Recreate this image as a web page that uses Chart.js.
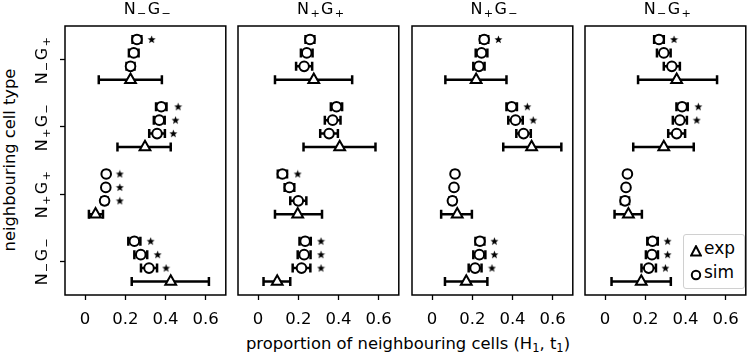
<!DOCTYPE html>
<html>
<head>
<meta charset="utf-8">
<script src="https://cdn.jsdelivr.net/npm/chart.js@4"></script>
<style>
  body { margin: 0; background: #fff; }
  #wrap { position: relative; width: 753px; height: 353px; overflow: hidden; font-family: "DejaVu Sans", sans-serif; color: #000; }
  #wrap canvas { position: absolute; top: 0; }
  sub { font-size: 0.7em; vertical-align: -0.25em; line-height: 0; margin: 0 0.12em; }
  .ptitle { position: absolute; top: 0px; width: 166px; text-align: center; font-size: 16px; line-height: 18px; white-space: nowrap; }
  .ytick { position: absolute; font-size: 16px; line-height: 18px; white-space: nowrap; transform: translate(-50%, -50%) rotate(-90deg); }
  #xlabel { position: absolute; left: 0; width: 816px; top: 335px; text-align: center; font-size: 16.4px; line-height: 18px; white-space: nowrap; }
  #xlabel sub { margin: 0; }
  #ylabel { position: absolute; left: 10px; top: 160px; font-size: 16.3px; line-height: 18px; white-space: nowrap; transform: translate(-50%, -50%) rotate(-90deg); }
  #legend { position: absolute; left: 683px; top: 234px; width: 60px; height: 53px; border: 1px solid #d0d0d0; border-radius: 3px; background: rgba(255,255,255,0.85); font-size: 17px; }
  .lrow { position: absolute; left: 0; height: 20px; line-height: 20px; }
  .lrow svg { position: absolute; left: 6px; top: 5px; }
  .lrow span { position: absolute; left: 20px; top: -2px; }
</style>
</head>
<body>
<div id="wrap">
  <div id="ylabel">neighbouring cell type</div>
  <div id="xlabel">proportion of neighbouring cells (H<sub>1</sub>, t<sub>1</sub>)</div>
  <div id="legend">
    <div class="lrow" style="top:5px"><svg width="12" height="12"><polygon points="6,1.2 10.8,10.4 1.2,10.4" fill="#fff" stroke="#000" stroke-width="2"/></svg><span>exp</span></div>
    <div class="lrow" style="top:29px"><svg width="12" height="12"><circle cx="6" cy="6" r="4.2" fill="#fff" stroke="#000" stroke-width="2"/></svg><span>sim</span></div>
  </div>
</div>
<script>
// categories bottom -> top
var categories = ['N-G-', 'N+G+', 'N+G-', 'N-G+'];
var panelTitles = ['N-G-', 'N+G+', 'N+G-', 'N-G+'];
var xTicks = [0, 0.2, 0.4, 0.6];

// experiment (triangle) per panel, per category
var expMean = [
  [0.426, 0.052, 0.298, 0.226],
  [0.095, 0.197, 0.406, 0.277],
  [0.170, 0.125, 0.495, 0.219],
  [0.180, 0.116, 0.292, 0.356]
];
var expLow = [
  [0.232, 0.019, 0.161, 0.068],
  [0.027, 0.084, 0.226, 0.084],
  [0.064, 0.045, 0.354, 0.066],
  [0.032, 0.047, 0.140, 0.164]
];
var expHigh = [
  [0.616, 0.089, 0.426, 0.382],
  [0.160, 0.318, 0.584, 0.468],
  [0.275, 0.198, 0.643, 0.370],
  [0.327, 0.183, 0.441, 0.557]
];

// simulations: three rows per category (A = top, C = lowest circle)
var simAMean = [
  [0.245, 0.105, 0.379, 0.258],
  [0.234, 0.121, 0.390, 0.258],
  [0.238, 0.114, 0.396, 0.259],
  [0.236, 0.111, 0.383, 0.268]
];
var simAErr = [
  [0.030, 0.010, 0.026, 0.022],
  [0.028, 0.023, 0.028, 0.022],
  [0.022, 0.010, 0.026, 0.020],
  [0.026, 0.010, 0.028, 0.024]
];
var simAStar = [
  [0.326, 0.173, 0.463, 0.331],
  [0.313, 0.197, null, null],
  [0.310, null, 0.474, 0.330],
  [0.311, null, 0.464, 0.343]
];
var simBMean = [
  [0.277, 0.103, 0.369, 0.242],
  [0.229, 0.156, 0.371, 0.242],
  [0.235, 0.109, 0.415, 0.246],
  [0.233, 0.104, 0.372, 0.292]
];
var simBErr = [
  [0.032, 0.010, 0.027, 0.024],
  [0.032, 0.024, 0.039, 0.029],
  [0.030, 0.010, 0.036, 0.029],
  [0.030, 0.010, 0.035, 0.034]
];
var simBStar = [
  [0.361, 0.173, 0.450, null],
  [0.313, null, null, null],
  [0.310, null, 0.503, null],
  [0.311, null, 0.456, null]
];
var simCMean = [
  [0.318, 0.097, 0.358, 0.226],
  [0.216, 0.200, 0.353, 0.229],
  [0.214, 0.101, 0.455, 0.233],
  [0.217, 0.099, 0.356, 0.332]
];
var simCErr = [
  [0.040, 0.015, 0.039, 0.020],
  [0.044, 0.040, 0.044, 0.040],
  [0.032, 0.015, 0.036, 0.028],
  [0.036, 0.020, 0.042, 0.040]
];
var simCStar = [
  [0.403, 0.173, 0.439, null],
  [0.313, null, null, null],
  [0.298, null, null, null],
  [0.300, null, null, null]
];

/* 'N-G+' -> N with subscript minus, G with subscript plus */
function labelHtml(s) {
  return s.replace(/([+-])/g, function (m) {
    return '<sub>' + (m === '-' ? '\u2212' : '+') + '</sub>';
  });
}

/* filled star marker */
var starImg = document.createElement('canvas');
starImg.width = 9; starImg.height = 9;
(function () {
  var c = starImg.getContext('2d');
  c.beginPath();
  for (var k = 0; k < 10; k++) {
    var r = k % 2 === 0 ? 4.2 : 1.8;
    var a = -Math.PI / 2 + k * Math.PI / 5;
    var px = 4.5 + r * Math.cos(a), py = 4.8 + r * Math.sin(a);
    if (k === 0) c.moveTo(px, py); else c.lineTo(px, py);
  }
  c.closePath();
  c.fillStyle = '#000';
  c.fill();
})();

/* horizontal error bars with caps, drawn under the markers */
var errBars = {
  id: 'errBars',
  beforeDatasetsDraw: function (chart) {
    var ctx = chart.ctx, xs = chart.scales.x, ys = chart.scales.y;
    ctx.save();
    ctx.strokeStyle = '#000';
    ctx.lineWidth = 2.5;
    chart.data.datasets.forEach(function (ds) {
      if (!ds.errLo) return;
      ds.data.forEach(function (p, j) {
        var y = ys.getPixelForValue(p.y);
        var x1 = xs.getPixelForValue(ds.errLo[j]);
        var x2 = xs.getPixelForValue(ds.errHi[j]);
        ctx.beginPath();
        ctx.moveTo(x1, y); ctx.lineTo(x2, y);
        ctx.moveTo(x1, y - 4.5); ctx.lineTo(x1, y + 4.5);
        ctx.moveTo(x2, y - 4.5); ctx.lineTo(x2, y + 4.5);
        ctx.stroke();
      });
    });
    ctx.restore();
  }
};

/* axes frame */
var frame = {
  id: 'frame',
  afterDraw: function (chart) {
    var a = chart.chartArea, ctx = chart.ctx;
    ctx.save();
    ctx.strokeStyle = '#000';
    ctx.lineWidth = 1.5;
    ctx.strokeRect(a.left, a.top, a.right - a.left, a.bottom - a.top);
    ctx.restore();
  }
};

function simDataset(mean, err, offset) {
  return {
    data: mean.map(function (v, j) { return { x: v, y: j + offset }; }),
    errLo: mean.map(function (v, j) { return v - err[j]; }),
    errHi: mean.map(function (v, j) { return v + err[j]; }),
    pointStyle: 'circle',
    pointRadius: 4.8,
    pointBorderWidth: 2,
    pointBackgroundColor: '#fff',
    pointBorderColor: '#000'
  };
}

function starDataset(stars, offset) {
  var pts = [];
  stars.forEach(function (v, j) { if (v !== null) pts.push({ x: v, y: j + offset }); });
  return { data: pts, pointStyle: starImg, pointRadius: 5 };
}

var panelLeft = [65, 238.33, 411.67, 585];
var charts = [];
var wrap = document.getElementById('wrap');

function createChart(p) {
  var canvas = document.createElement('canvas');
  canvas.width = 234; canvas.height = 353;
  canvas.style.left = (panelLeft[p] - 65) + 'px';
  wrap.appendChild(canvas);

  var title = document.createElement('div');
  title.className = 'ptitle';
  title.style.left = panelLeft[p] + 'px';
  title.innerHTML = labelHtml(panelTitles[p]);
  wrap.appendChild(title);

  var first = p === 0;
  var expSet = {
    data: expMean[p].map(function (v, j) { return { x: v, y: j - 0.3 }; }),
    errLo: expLow[p],
    errHi: expHigh[p],
    pointStyle: 'triangle',
    pointRadius: 6.2,
    pointBorderWidth: 2,
    pointBackgroundColor: '#fff',
    pointBorderColor: '#000'
  };

  return new Chart(canvas, {
    type: 'scatter',
    data: {
      datasets: [
        expSet,
        simDataset(simCMean[p], simCErr[p], -0.1),
        simDataset(simBMean[p], simBErr[p], 0.1),
        simDataset(simAMean[p], simAErr[p], 0.3),
        starDataset(simCStar[p], -0.1),
        starDataset(simBStar[p], 0.1),
        starDataset(simAStar[p], 0.3)
      ]
    },
    options: {
      responsive: false,
      animation: false,
      events: [],
      layout: { padding: { top: 26, right: 3, left: 0, bottom: 0 } },
      plugins: { legend: { display: false }, tooltip: { enabled: false } },
      scales: {
        x: {
          type: 'linear', min: -0.1, max: 0.7,
          afterFit: function (s) { s.height = 58; },
          afterBuildTicks: function (s) { s.ticks = xTicks.map(function (v) { return { value: v }; }); },
          border: { display: false },
          grid: { display: true, drawOnChartArea: false, tickLength: 5, tickWidth: 1.3, color: '#000' },
          ticks: {
            padding: 10, color: '#000',
            font: { family: 'DejaVu Sans', size: 16.5 },
            callback: function (v) { return v === 0 ? '0' : v.toFixed(1); }
          }
        },
        y: {
          type: 'linear', min: -0.5, max: 3.5,
          afterFit: function (s) { s.width = 65; },
          afterBuildTicks: function (s) { s.ticks = categories.map(function (c, i) { return { value: i }; }); },
          border: { display: false },
          grid: { display: first, drawOnChartArea: false, tickLength: 5, tickWidth: 1.3, color: '#000' },
          ticks: { display: false }
        }
      }
    },
    plugins: [errBars, frame]
  });
}

for (var i = 0; i < 4; i++) {
  charts.push(createChart(i));
}

/* rotated category labels placed at the first panel's y ticks */
categories.forEach(function (c, i) {
  var d = document.createElement('div');
  d.className = 'ytick';
  d.style.left = '42px';
  d.style.top = charts[0].scales.y.getPixelForValue(i) + 'px';
  d.innerHTML = labelHtml(c);
  wrap.appendChild(d);
});
</script>
</body>
</html>
